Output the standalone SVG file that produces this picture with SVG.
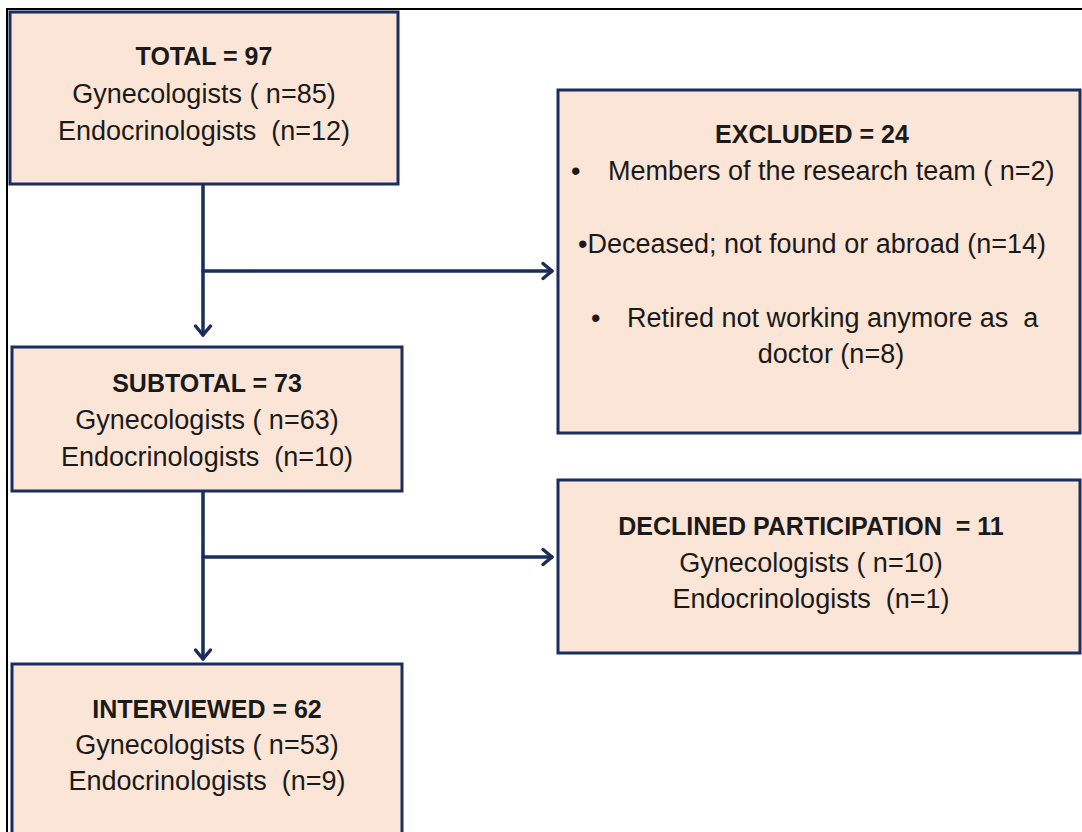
<svg xmlns="http://www.w3.org/2000/svg" width="1082" height="832" viewBox="0 0 1082 832" xml:space="preserve">
<defs>
<style>
.box{fill:#fbe5d6;stroke:#1b2c5e;stroke-width:3}
.t{font-family:"Liberation Sans",Arial,sans-serif;font-size:27px;fill:#1a1a1a;text-anchor:middle;white-space:pre}
.b{font-weight:bold;font-size:25px}
.l{text-anchor:start}
.con{fill:none;stroke:#1b2c5e;stroke-width:3.5;stroke-linecap:round;stroke-linejoin:round}
</style>
<marker id="ah" viewBox="0 0 20 20" refX="12" refY="10" markerWidth="20" markerHeight="20" markerUnits="userSpaceOnUse" orient="auto">
<path d="M3,2.5 L12,10 L3,17.5" fill="none" stroke="#1b2c5e" stroke-width="3.5" stroke-linecap="round" stroke-linejoin="round"/>
</marker>
</defs>
<rect x="0" y="0" width="1082" height="832" fill="#ffffff"/>
<rect x="7" y="9" width="1100" height="850" fill="none" stroke="#000000" stroke-width="2"/>
<g id="connectors">
<path class="con" d="M203,185 V335" marker-end="url(#ah)"/>
<path class="con" d="M203,271 H552" marker-end="url(#ah)"/>
<path class="con" d="M203,492 V659" marker-end="url(#ah)"/>
<path class="con" d="M203,557 H552" marker-end="url(#ah)"/>
</g>
<g id="total">
<rect class="box" x="10" y="12" width="388" height="172"/>
<text class="t b" x="204" y="65">TOTAL = 97</text>
<text class="t" x="204" y="103">Gynecologists ( n=85)</text>
<text class="t" x="204" y="140">Endocrinologists  (n=12)</text>
</g>
<g id="excluded">
<rect class="box" x="558" y="90" width="522" height="343"/>
<text class="t b" x="812" y="143">EXCLUDED = 24</text>
<text class="t l" x="571" y="180">•</text>
<text class="t l" x="608" y="180">Members of the research team ( n=2)</text>
<text class="t l" x="578" y="253">•Deceased; not found or abroad (n=14)</text>
<text class="t l" x="591" y="327">•</text>
<text class="t l" x="627" y="327">Retired not working anymore as  a</text>
<text class="t" x="831" y="363">doctor (n=8)</text>
</g>
<g id="subtotal">
<rect class="box" x="12" y="347" width="390" height="144"/>
<text class="t b" x="207" y="392">SUBTOTAL = 73</text>
<text class="t" x="207" y="429">Gynecologists ( n=63)</text>
<text class="t" x="207" y="466">Endocrinologists  (n=10)</text>
</g>
<g id="declined">
<rect class="box" x="558" y="480" width="522" height="173"/>
<text class="t b" x="811" y="535">DECLINED PARTICIPATION  = 11</text>
<text class="t" x="811" y="572">Gynecologists ( n=10)</text>
<text class="t" x="811" y="608">Endocrinologists  (n=1)</text>
</g>
<g id="interviewed">
<rect class="box" x="12" y="664" width="390" height="190"/>
<text class="t b" x="207" y="718">INTERVIEWED = 62</text>
<text class="t" x="207" y="754">Gynecologists ( n=53)</text>
<text class="t" x="207" y="790">Endocrinologists  (n=9)</text>
</g>
</svg>
